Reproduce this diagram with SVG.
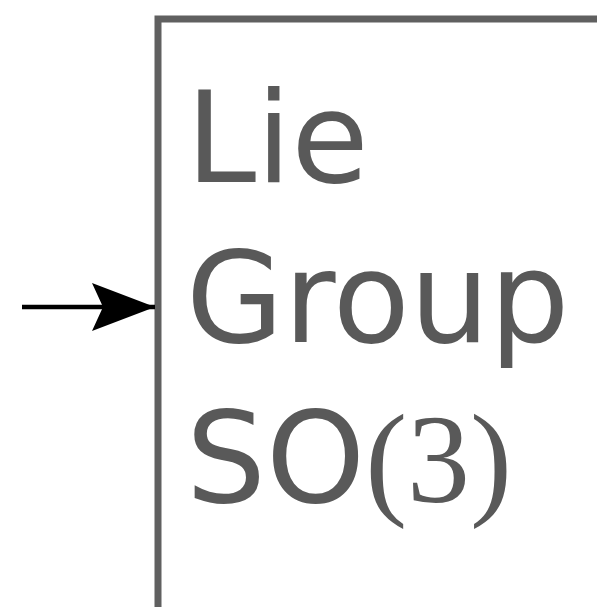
<svg xmlns="http://www.w3.org/2000/svg" width="597" height="607" viewBox="0 0 597 607">
<style>
.t{font-family:"DejaVu Sans",sans-serif;font-size:126px;fill:#595959}
.s{font-family:"Liberation Serif",serif}
</style>
<defs>
<marker id="ah" markerUnits="userSpaceOnUse" markerWidth="70" markerHeight="54" refX="63" refY="24" orient="auto">
<path d="M0,0 L63,24 L0,48 L11,24 Z" fill="#000"/>
</marker>
</defs>
<rect width="597" height="607" fill="#fff"/>
<g id="node">
<rect x="158" y="19" width="460" height="620" fill="none" stroke="#606060" stroke-width="7"/>
<text class="t" x="186" y="182">Lie</text>
<text class="t" x="186" y="342">Group</text>
<text class="t" x="186" y="502">SO<tspan class="s">(3)</tspan></text>
</g>
<g id="connectors">
<line x1="22" y1="307" x2="155" y2="307" stroke="#000" stroke-width="4.5" marker-end="url(#ah)"/>
</g>
</svg>
